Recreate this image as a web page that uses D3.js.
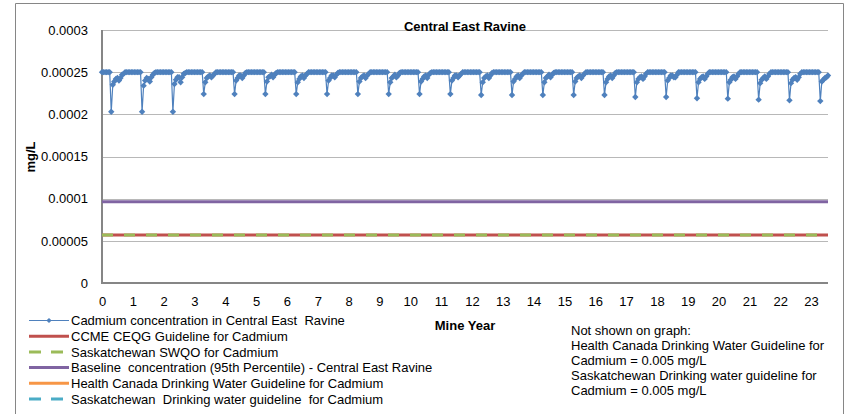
<!DOCTYPE html>
<html>
<head>
<meta charset="utf-8">
<script src="https://cdn.jsdelivr.net/npm/d3@7"></script>
<style>
  html, body { margin: 0; padding: 0; background: #fff; }
  svg { display: block; font-family: "Liberation Sans", Arial, sans-serif; }
</style>
</head>
<body>
<svg id="chart" width="859" height="414"></svg>
<script>
// ---------------- DATA ----------------
const chartTitle = "Central East Ravine";
const yAxisTitle = "mg/L";
const xAxisTitle = "Mine Year";
const yTickValues = [0, 0.00005, 0.0001, 0.00015, 0.0002, 0.00025, 0.0003];
const yTickLabels = ["0", "0.00005", "0.0001", "0.00015", "0.0002", "0.00025", "0.0003"];
const xTickValues = d3.range(0, 24);
const sampleStep = 0.05; // sampling interval in mine years

// Cadmium concentration in Central East Ravine (mg/L), one array per mine year
const cadmiumByYear = [
  [0.00025,0.00025,0.00025,0.00025,0.00025,0.00025,0.000203,0.000235,0.000239,0.000242,0.000243,0.00024,0.000243,0.000247,0.000248,0.00025,0.00025,0.00025,0.00025,0.00025],
  [0.00025,0.00025,0.00025,0.00025,0.00025,0.00025,0.000203,0.000234,0.00024,0.000243,0.000242,0.000239,0.000244,0.000247,0.000249,0.00025,0.00025,0.00025,0.00025,0.00025],
  [0.00025,0.00025,0.00025,0.00025,0.00025,0.00025,0.000203,0.000236,0.000241,0.000244,0.000244,0.000238,0.000244,0.000248,0.000249,0.00025,0.00025,0.00025,0.00025,0.00025],
  [0.00025,0.00025,0.00025,0.00025,0.00025,0.00025,0.000224,0.000238,0.000243,0.000245,0.000246,0.000244,0.000246,0.000248,0.00025,0.00025,0.00025,0.00025,0.00025,0.00025],
  [0.00025,0.00025,0.00025,0.00025,0.00025,0.00025,0.000224,0.00024,0.000243,0.000246,0.000246,0.000243,0.000246,0.000249,0.00025,0.00025,0.00025,0.00025,0.00025,0.00025],
  [0.00025,0.00025,0.00025,0.00025,0.00025,0.00025,0.000224,0.000239,0.000244,0.000245,0.000247,0.000244,0.000247,0.000249,0.00025,0.00025,0.00025,0.00025,0.00025,0.00025],
  [0.00025,0.00025,0.00025,0.00025,0.00025,0.00025,0.000224,0.000238,0.000242,0.000245,0.000246,0.000243,0.000246,0.000248,0.00025,0.00025,0.00025,0.00025,0.00025,0.00025],
  [0.00025,0.00025,0.00025,0.00025,0.00025,0.00025,0.000224,0.00024,0.000243,0.000246,0.000246,0.000244,0.000247,0.000249,0.00025,0.00025,0.00025,0.00025,0.00025,0.00025],
  [0.00025,0.00025,0.00025,0.00025,0.00025,0.00025,0.000224,0.000239,0.000243,0.000245,0.000246,0.000243,0.000246,0.000248,0.00025,0.00025,0.00025,0.00025,0.00025,0.00025],
  [0.00025,0.00025,0.00025,0.00025,0.00025,0.00025,0.000224,0.000238,0.000243,0.000245,0.000247,0.000244,0.000246,0.000249,0.00025,0.00025,0.00025,0.00025,0.00025,0.00025],
  [0.00025,0.00025,0.00025,0.00025,0.00025,0.00025,0.000224,0.000239,0.000242,0.000245,0.000246,0.000243,0.000247,0.000249,0.00025,0.00025,0.00025,0.00025,0.00025,0.00025],
  [0.00025,0.00025,0.00025,0.00025,0.00025,0.00025,0.000224,0.00024,0.000243,0.000246,0.000246,0.000244,0.000246,0.000248,0.00025,0.00025,0.00025,0.00025,0.00025,0.00025],
  [0.00025,0.00025,0.00025,0.00025,0.00025,0.00025,0.000223,0.000238,0.000243,0.000245,0.000246,0.000243,0.000246,0.000249,0.00025,0.00025,0.00025,0.00025,0.00025,0.00025],
  [0.00025,0.00025,0.00025,0.00025,0.00025,0.00025,0.000223,0.000239,0.000242,0.000245,0.000246,0.000243,0.000246,0.000248,0.00025,0.00025,0.00025,0.00025,0.00025,0.00025],
  [0.00025,0.00025,0.00025,0.00025,0.00025,0.00025,0.000223,0.000238,0.000243,0.000245,0.000247,0.000244,0.000247,0.000249,0.00025,0.00025,0.00025,0.00025,0.00025,0.00025],
  [0.00025,0.00025,0.00025,0.00025,0.00025,0.00025,0.000223,0.000239,0.000243,0.000245,0.000246,0.000243,0.000246,0.000248,0.00025,0.00025,0.00025,0.00025,0.00025,0.00025],
  [0.00025,0.00025,0.00025,0.00025,0.00025,0.00025,0.000223,0.000238,0.000242,0.000245,0.000246,0.000243,0.000246,0.000249,0.00025,0.00025,0.00025,0.00025,0.00025,0.00025],
  [0.00025,0.00025,0.00025,0.00025,0.00025,0.00025,0.0002205,0.000238,0.000242,0.000244,0.000245,0.000242,0.000245,0.000248,0.00025,0.00025,0.00025,0.00025,0.00025,0.00025],
  [0.00025,0.00025,0.00025,0.00025,0.00025,0.00025,0.0002205,0.00024,0.000243,0.000246,0.000246,0.000244,0.000244,0.000247,0.00025,0.00025,0.00025,0.00025,0.00025,0.00025],
  [0.00025,0.00025,0.00025,0.00025,0.00025,0.00025,0.000219,0.000238,0.000242,0.000244,0.000245,0.000242,0.000245,0.000248,0.00025,0.00025,0.00025,0.00025,0.00025,0.00025],
  [0.00025,0.00025,0.00025,0.00025,0.00025,0.00025,0.0002186,0.000238,0.000241,0.000244,0.000245,0.000242,0.000245,0.000248,0.00025,0.00025,0.00025,0.00025,0.00025,0.00025],
  [0.00025,0.00025,0.00025,0.00025,0.00025,0.00025,0.0002174,0.000237,0.000241,0.000243,0.000245,0.000242,0.000245,0.000248,0.00025,0.00025,0.00025,0.00025,0.00025,0.00025],
  [0.00025,0.00025,0.00025,0.00025,0.00025,0.00025,0.0002166,0.000237,0.000241,0.000243,0.000244,0.000241,0.000244,0.000248,0.00025,0.00025,0.00025,0.00025,0.00025,0.00025],
  [0.00025,0.00025,0.00025,0.00025,0.00025,0.00025,0.0002157,0.000239,0.000241,0.000243,0.000244,0.000246]
];

// Guideline / reference values (mg/L)
const ccmeGuideline = 0.000057;
const swqoGuideline = 0.000057;
const baselineConc = 0.0000962;

const legendLabels = [
  "Cadmium concentration in Central East  Ravine",
  "CCME CEQG Guideline for Cadmium",
  "Saskatchewan SWQO for Cadmium",
  "Baseline  concentration (95th Percentile) - Central East Ravine",
  "Health Canada Drinking Water Guideline for Cadmium",
  "Saskatchewan  Drinking water guideline  for Cadmium"
];
const noteLines = [
  "Not shown on graph:",
  "Health Canada Drinking Water Guideline for",
  "Cadmium = 0.005 mg/L",
  "Saskatchewan Drinking water guideline for",
  "Cadmium = 0.005 mg/L"
];

// ---------------- STYLE ----------------
const C = {
  blue: "#4F81BD", red: "#C0504D", green: "#9BBB59", purple: "#8064A2",
  orange: "#F79646", teal: "#4BACC6", grid: "#B8B8B8", axis: "#868686", text: "#000"
};

// ---------------- BUILD ----------------
const series = [];
cadmiumByYear.forEach((vals, yr) => {
  vals.forEach((v, i) => series.push({ x: yr + i * sampleStep, y: v }));
});

const svg = d3.select("#chart");
const xMax = series[series.length - 1].x;
const x = d3.scaleLinear().domain([0, xMax]).range([102, 828]);
const y = d3.scaleLinear().domain([0, 0.0003]).range([283, 30]);

// outer chart border
svg.append("path")
  .attr("d", "M15.5,420 L15.5,3.5 L843.5,3.5 L843.5,420")
  .attr("fill", "none").attr("stroke", C.axis).attr("stroke-width", 1);

// gridlines
svg.append("g").selectAll("line")
  .data(yTickValues.filter(v => v > 0))
  .join("line")
  .attr("x1", x(0)).attr("x2", x(xMax))
  .attr("y1", d => Math.round(y(d)) + 0.5).attr("y2", d => Math.round(y(d)) + 0.5)
  .attr("stroke", C.grid).attr("stroke-width", 1);

// y axis labels
const yAxis = d3.axisLeft(y).tickValues(yTickValues)
  .tickFormat((d, i) => yTickLabels[i]).tickSize(0).tickPadding(14);
const gy = svg.append("g").attr("transform", `translate(${x(0)},0)`).call(yAxis);
gy.select(".domain").remove();
gy.selectAll("text").attr("font-size", 13).attr("fill", C.text)
  .attr("font-family", "Liberation Sans, Arial, sans-serif");

// x axis labels
const xAxis = d3.axisBottom(x).tickValues(xTickValues).tickFormat(d3.format("d"))
  .tickSize(0).tickPadding(14);
const gx = svg.append("g").attr("transform", `translate(0,${y(0)})`).call(xAxis);
gx.select(".domain").remove();
gx.selectAll("text").attr("font-size", 13).attr("fill", C.text)
  .attr("font-family", "Liberation Sans, Arial, sans-serif");

// axis lines
svg.append("line").attr("x1", x(0)).attr("x2", x(0)).attr("y1", y(0.0003)).attr("y2", y(0) + 1)
  .attr("stroke", C.axis).attr("stroke-width", 2);
svg.append("line").attr("x1", x(0) - 1).attr("x2", x(xMax)).attr("y1", y(0)).attr("y2", y(0))
  .attr("stroke", C.axis).attr("stroke-width", 2);

// guideline lines
function hLine(val, color, dash) {
  const l = svg.append("line")
    .attr("x1", x(0)).attr("x2", x(xMax))
    .attr("y1", y(val)).attr("y2", y(val))
    .attr("stroke", color).attr("stroke-width", 3);
  if (dash) l.attr("stroke-dasharray", dash);
  return l;
}
hLine(ccmeGuideline, C.red);
hLine(swqoGuideline, C.green, "11,11");
hLine(baselineConc, C.purple);

// cadmium series
const diamond = "M0,-3.2L3.2,0L0,3.2L-3.2,0Z";
svg.append("path").datum(series)
  .attr("fill", "none").attr("stroke", C.blue).attr("stroke-width", 1.2)
  .attr("d", d3.line().x(d => x(d.x)).y(d => y(d.y)));
svg.append("g").selectAll("path").data(series).join("path")
  .attr("d", diamond)
  .attr("transform", d => `translate(${x(d.x)},${y(d.y)})`)
  .attr("fill", C.blue);

// title
svg.append("text").attr("x", 465).attr("y", 31).attr("text-anchor", "middle")
  .attr("font-size", 13).attr("font-weight", "bold").text(chartTitle);

// y axis title
svg.append("text").attr("transform", "translate(35,157) rotate(-90)")
  .attr("text-anchor", "middle").attr("font-size", 13).attr("font-weight", "bold").text(yAxisTitle);

// x axis title
svg.append("text").attr("x", 465).attr("y", 330).attr("text-anchor", "middle")
  .attr("font-size", 13).attr("font-weight", "bold").text(xAxisTitle);

// legend
const legendItems = [
  { color: C.blue, width: 1, dash: null, marker: true },
  { color: C.red, width: 3, dash: null },
  { color: C.green, width: 3, dash: "12,10" },
  { color: C.purple, width: 3, dash: null },
  { color: C.orange, width: 3, dash: null },
  { color: C.teal, width: 3, dash: "12,10" }
];
const lg = svg.append("g");
legendItems.forEach((it, i) => {
  const cy = 320.5 + i * 15.7;
  const l = lg.append("line").attr("x1", 29).attr("x2", 69).attr("y1", cy).attr("y2", cy)
    .attr("stroke", it.color).attr("stroke-width", it.width);
  if (it.dash) l.attr("stroke-dasharray", it.dash);
  if (it.marker) lg.append("path").attr("d", "M0,-2.6L2.6,0L0,2.6L-2.6,0Z").attr("transform", `translate(49,${cy})`).attr("fill", it.color);
  lg.append("text").attr("x", 71).attr("y", cy + 4.6).attr("font-size", 13)
    .attr("xml:space", "preserve").style("white-space", "pre").text(legendLabels[i]);
});

// note
const ng = svg.append("g");
noteLines.forEach((t, i) => {
  ng.append("text").attr("x", 571).attr("y", 334.6 + i * 15).attr("font-size", 13).text(t);
});
</script>
</body>
</html>
